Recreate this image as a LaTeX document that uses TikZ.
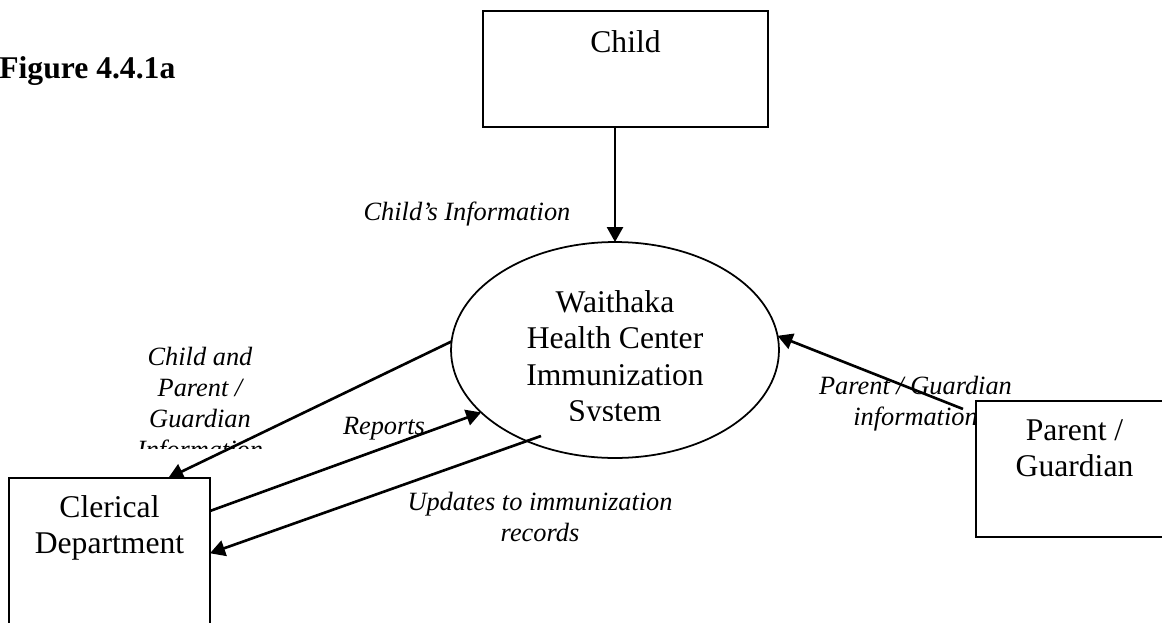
\documentclass[tikz,border=0pt]{standalone}
\usepackage{fontspec}
\setmainfont{Liberation Serif}
\usetikzlibrary{arrows.meta, shapes.geometric}

\begin{document}
\begin{tikzpicture}[x=0.02cm, y=-0.02cm,
    box/.style={draw, line width=1.3pt, rectangle, inner sep=0pt, outer sep=0pt},
    proc/.style={draw, line width=1pt, ellipse, inner sep=0pt, outer sep=0pt,
        minimum width=6.56cm, minimum height=4.32cm},
    boxtxt/.style={inner sep=0pt, align=center, font=\fontsize{18}{20.8}\selectfont},
    flowlbl/.style={inner sep=0pt, align=center, font=\fontsize{15}{17.6}\selectfont\itshape},
    flow/.style={line width=1.5pt, -{Triangle[length=0.3cm, width=0.32cm]}}]
    \useasboundingbox (0,0) rectangle (1162,622);
    \clip (0,0) rectangle (1162,622);
    \node[anchor=base west, inner sep=0pt, font=\fontsize{18}{20.8}\selectfont\bfseries] (fig) at (-1,78) {Figure 4.4.1a};
    \node[box, minimum width=5.7cm, minimum height=2.32cm] (child) at (625.5,69) {};
    \node[box, minimum width=4.02cm, minimum height=4.24cm] (cler) at (109.5,584) {};
    \node[box, minimum width=3.94cm, minimum height=2.72cm] (pg) at (1074.5,469) {};
    \node[proc] (sys) at (615,350) {};
    \node[boxtxt, anchor=base] (childtxt) at (625.5,52) {Child};
    \node[boxtxt, anchor=north] (clertxt) at (109.5,495) {Clerical\\Department};
    \node[boxtxt, anchor=north] (pgtxt) at (1074.5,419) {Parent /\\Guardian};
    \begin{scope}
        \clip (470,280) rectangle (760,420);
        \node[boxtxt, anchor=north] (systxt) at (615,290) {Waithaka\\Health Center\\Immunization\\System};
    \end{scope}
    \begin{scope}
        \clip (100,330) rectangle (300,448);
        \node[flowlbl, anchor=north] (cpinfo) at (200,347) {Child and\\Parent /\\Guardian\\Information};
    \end{scope}
    \node[flowlbl, anchor=base] (cinfo) at (467,220) {Child’s Information};
    \node[flowlbl, anchor=base] (rep) at (384,434) {Reports};
    \node[flowlbl, anchor=north] (upd) at (540,492) {Updates to immunization\\records};
    \node[flowlbl, anchor=north] (pginfo) at (915.5,376) {Parent / Guardian\\information};
    \coordinate (updstart) at (541,436);
    \coordinate (pgend) at (963,409);
    \draw[flow] (sys.north |- child.south) -- (sys.north);
    \draw[flow] (sys.177) -- (cler.61);
    \draw[flow] (cler.36) -- (sys.205);
    \draw[flow] (updstart) -- (cler.17);
    \draw[flow] (pgend) -- (sys.5);
\end{tikzpicture}
\end{document}
